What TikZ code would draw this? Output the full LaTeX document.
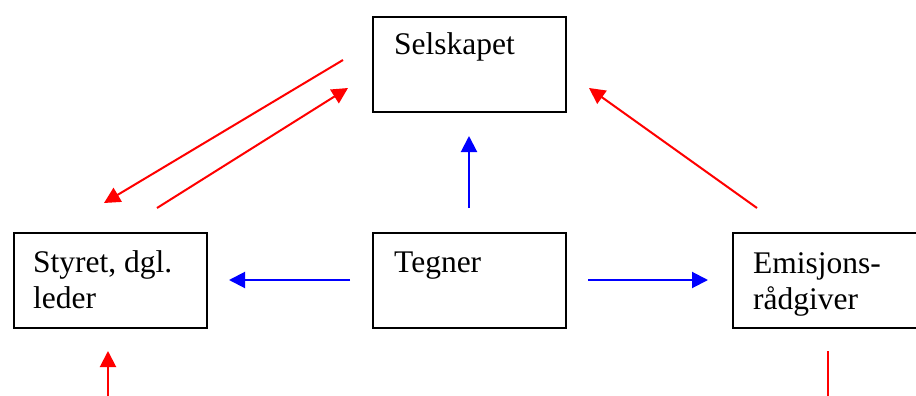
\documentclass[tikz,border=0pt]{standalone}
\usepackage{fontspec}
\setmainfont{Liberation Serif}
\usetikzlibrary{arrows.meta}
\begin{document}
\begin{tikzpicture}[x=1pt,y=-1pt,
  box/.style={draw=black,line width=1.8pt,minimum width=193pt,minimum height=95pt,anchor=north west,inner sep=0pt},
  lbl/.style={anchor=base west,inner sep=0pt,align=left,font=\fontsize{31.5}{35.5}\selectfont},
  redarr/.style={draw={rgb,255:red,255;green,0;blue,0},line width=2pt,-{Triangle[length=16pt,width=16pt]}},
  bluearr/.style={draw={rgb,255:red,0;green,0;blue,255},line width=2pt,-{Triangle[length=16pt,width=16pt]}},
  redline/.style={draw={rgb,255:red,255;green,0;blue,0},line width=2pt}]
\clip (0,0) rectangle (916,396);
\fill[white] (0,0) rectangle (916,396);
% boxes
\node[box] (sel) at (372,16) {};
\node[box] (sty) at (13,232) {};
\node[box] (teg) at (372,232) {};
\node[box] (emi) at (732,232) {};
% labels (base anchor = baseline of last line)
\node[lbl] (selt) at (394,55) {Selskapet};
\node[lbl] (tegt) at (394,272) {Tegner};
\node[lbl] (styt) at (33,308) {Styret, dgl.\\leder};
\node[lbl] (emit) at (753,309) {Emisjons-\\rådgiver};
% arrow endpoints
\coordinate (a1s) at (343,60);  \coordinate (a1e) at (104,203);
\coordinate (a2s) at (157,208); \coordinate (a2e) at (348,88);
\coordinate (a3s) at (757,208); \coordinate (a3e) at (589,88);
\coordinate (a4s) at (469,208); \coordinate (a4e) at (469,136);
\coordinate (a5s) at (350,280); \coordinate (a5e) at (229,280);
\coordinate (a6s) at (588,280); \coordinate (a6e) at (708,280);
\coordinate (a7s) at (108,396); \coordinate (a7e) at (108,351);
\coordinate (a8s) at (828,351); \coordinate (a8e) at (828,396);
% connectors
\draw[redarr] (a1s) -- (a1e);
\draw[redarr] (a2s) -- (a2e);
\draw[redarr] (a3s) -- (a3e);
\draw[bluearr] (a4s) -- (a4e);
\draw[bluearr] (a5s) -- (a5e);
\draw[bluearr] (a6s) -- (a6e);
\draw[redarr] (a7s) -- (a7e);
\draw[redline] (a8s) -- (a8e);
\end{tikzpicture}
\end{document}
